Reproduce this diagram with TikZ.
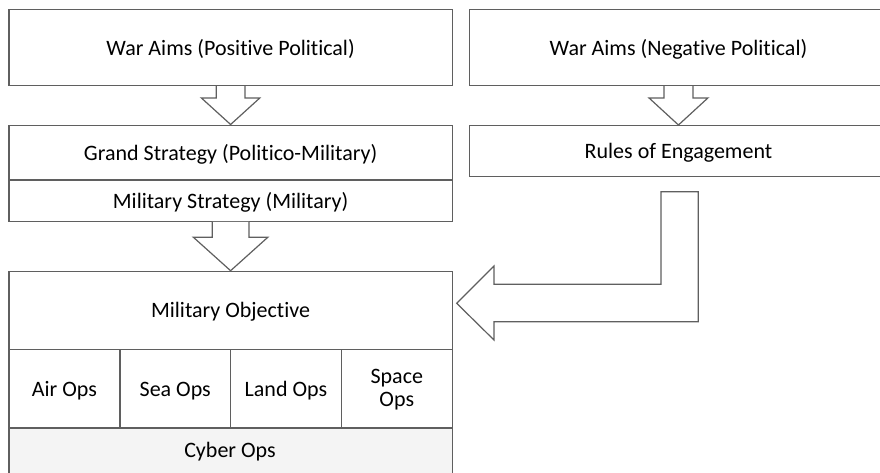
\documentclass[tikz,border=0pt]{standalone}
\usepackage{fontspec}
\setmainfont{Carlito}[Ligatures=NoCommon]
\usetikzlibrary{calc}
\definecolor{linec}{RGB}{95,95,95}
\definecolor{cyberfill}{RGB}{244,244,244}
\begin{document}
\begin{tikzpicture}[x=1pt,y=-1pt,line join=miter,
  box/.style={draw=linec,line width=1.2pt,anchor=north west,inner sep=0pt,align=center,
    font=\fontsize{22}{23}\selectfont,text=black},
  one/.style={text height=16.5pt,text depth=1.5pt},
  blockarrow/.style={draw=linec,line width=1.2pt,fill=white}]
\useasboundingbox (0,0) rectangle (880,472);
\clip (0,0) rectangle (880,472);
% left column
\node[box,one,minimum width=443.4pt,minimum height=76pt] (wp) at (8.3,9) {War Aims (Positive Political)};
\node[box,one,minimum width=443.4pt,minimum height=54.8pt] (gs) at (8.3,124.5) {Grand Strategy (Politico-Military)};
\node[box,one,minimum width=443.4pt,minimum height=41.4pt] (ms) at (8.3,179.3) {Military Strategy (Military)};
\node[box,one,minimum width=443.4pt,minimum height=78.3pt] (mo) at (8.3,270.7) {Military Objective};
\node[box,one,minimum width=111pt,minimum height=78.3pt] (air) at (8.3,349) {Air Ops};
\node[box,one,minimum width=110.7pt,minimum height=78.3pt] (sea) at (119.3,349) {Sea Ops};
\node[box,one,minimum width=110.7pt,minimum height=78.3pt] (land) at (230,349) {Land Ops};
\node[box,minimum width=111pt,minimum height=78.3pt] (space) at (340.7,349) {};
\node[font=\fontsize{22}{23}\selectfont,align=center,inner sep=0pt] (spacetext) at ($(space.center)+(0,1)$) {Space\\Ops};
\node[box,fill=cyberfill,minimum width=443.4pt,minimum height=50pt] (cyber) at (8.3,427.3) {};
\node[font=\fontsize{22}{23}\selectfont,one,inner sep=0pt] (cybertext) at (230,449.5) {Cyber Ops};
% right column
\node[box,one,minimum width=418.3pt,minimum height=76pt] (wn) at (468.7,9) {War Aims (Negative Political)};
\node[box,one,minimum width=418.3pt,minimum height=50.7pt] (roe) at (468.7,125) {Rules of Engagement};
% block arrows
\draw[blockarrow] ($(wp.south)+(-14.3,0)$) -- ++(0,11.7) -- ++(-15,0) -- (gs.north)
  -- ($(wp.south)+(29.3,11.7)$) -- ++(-15,0) -- ($(wp.south)+(14.3,0)$);
\draw[blockarrow] ($(ms.south)+(-18.3,0)$) -- ++(0,15.3) -- ++(-19,0) -- (mo.north)
  -- ($(ms.south)+(37.3,15.3)$) -- ++(-19,0) -- ($(ms.south)+(18.3,0)$);
\draw[blockarrow] ($(wn.south)+(-14.5,0)$) -- ++(0,11.7) -- ++(-15,0) -- (roe.north)
  -- ($(wn.south)+(29.5,11.7)$) -- ++(-15,0) -- ($(wn.south)+(14.5,0)$);
\coordinate (lt) at (661,191.7);
\coordinate (tip) at (456.7,303.3);
\draw[blockarrow] (lt) -- (698.3,191.7) -- (698.3,321.7) -- (494,321.7) -- (494,340)
  -- (tip) -- (494,266) -- (494,284.3) -- (661,284.3) -- cycle;
\end{tikzpicture}
\end{document}
